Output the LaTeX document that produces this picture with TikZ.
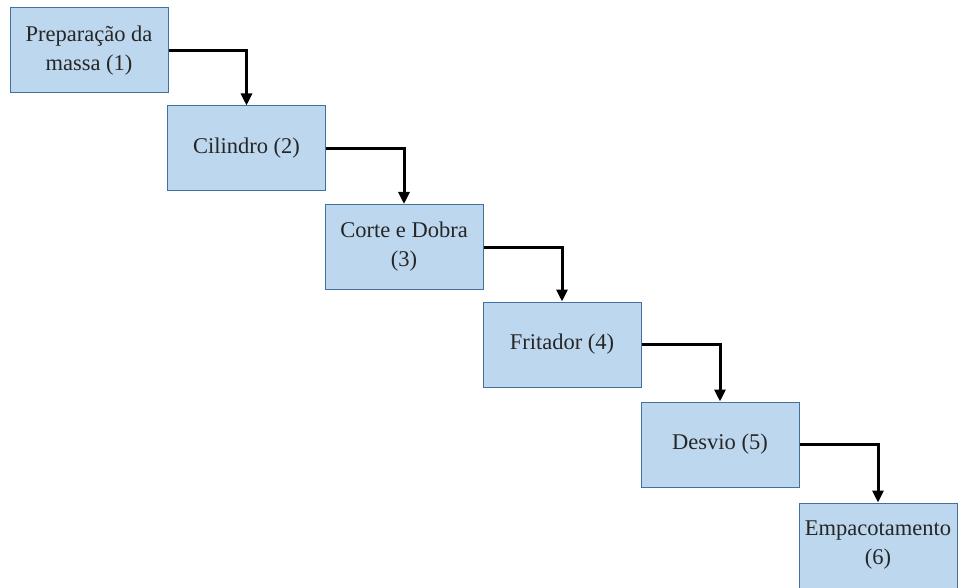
\documentclass[tikz,border=0pt]{standalone}
\usepackage{fontspec}
\setmainfont{Liberation Serif}
\usetikzlibrary{arrows.meta}
\definecolor{boxfill}{HTML}{BDD7EE}
\definecolor{boxline}{HTML}{41719C}
\begin{document}
\begin{tikzpicture}[x=1pt,y=-1pt,
  stepbox/.style={draw=boxline,fill=boxfill,line width=1pt,minimum width=158pt,minimum height=85pt,
    inner sep=0pt,align=center,font=\fontsize{22.5}{29}\selectfont,text=black!85},
  flow/.style={line width=3pt,-{Triangle[width=11pt,length=12pt]}}]
\useasboundingbox (0,0) rectangle (958,588);
\node[stepbox] (s1) at (89,50.5) {Preparação da\\massa (1)};
\node[stepbox] (s2) at (246.5,148.5) {Cilindro (2)};
\node[stepbox] (s3) at (404,247) {Corte e Dobra\\(3)};
\node[stepbox] (s4) at (562,344.5) {Fritador (4)};
\node[stepbox] (s5) at (720,444.5) {Desvio (5)};
\node[stepbox] (s6) at (878,545.5) {Empacotamento\\(6)};
\foreach \a/\b in {s1/s2,s2/s3,s3/s4,s4/s5,s5/s6}
  \draw[flow] (\a.east) -| (\b.north);
\end{tikzpicture}
\end{document}
